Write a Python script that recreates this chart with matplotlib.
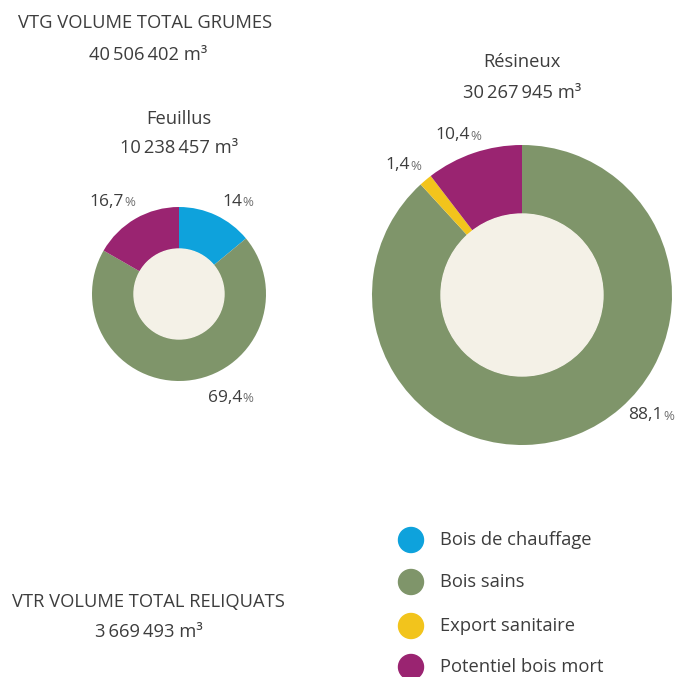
import matplotlib.pyplot as plt
from matplotlib.patches import Circle

plt.rcParams["font.family"] = ["Open Sans", "DejaVu Sans"]

# Data
categories = ["Bois de chauffage", "Bois sains", "Export sanitaire", "Potentiel bois mort"]
colors = ["#0ea2dc", "#7f956a", "#f2c41c", "#9a2471"]

groups = ["Feuillus", "Résineux"]
group_volumes = ["10\u2009238\u2009457 m³", "30\u2009267\u2009945 m³"]
feuillus_pct = [14, 69.4, 0, 16.7]
resineux_pct = [0, 88.1, 1.4, 10.4]

vtg_title = "VTG VOLUME TOTAL GRUMES"
vtg_volume = "40\u2009506\u2009402 m³"
vtr_title = "VTR VOLUME TOTAL RELIQUATS"
vtr_volume = "3\u2009669\u2009493 m³"

W, H = 681, 677
text_color = "#3d3d3d"
inner_color = "#f4f1e7"
fs = 13.2


def fy(y):
    # pixel y (from top) to data y
    return H - y


fig = plt.figure(figsize=(W / 100, H / 100), dpi=100)
ax = fig.add_axes([0, 0, 1, 1])

# donut layout: center x, center y, outer radius, inner radius
donuts = [
    (179, 294, 87, 45),
    (522, 295, 150, 81),
]
# label anchor points (junction between number and %) for nonzero slices
label_pos = [
    {0: (242, 202), 1: (242, 398), 3: (124, 202)},
    {1: (663, 415), 2: (410, 165), 3: (470, 135)},
]

for (cx, cy, r_out, r_in), pct, pos in zip(donuts, [feuillus_pct, resineux_pct], label_pos):
    ax.pie(
        pct,
        colors=colors,
        startangle=90,
        counterclock=False,
        center=(cx, fy(cy)),
        radius=r_out,
        wedgeprops=dict(width=r_out - r_in, linewidth=0),
    )
    ax.add_patch(Circle((cx, fy(cy)), r_in, color=inner_color, zorder=3))
    for i, v in enumerate(pct):
        if v == 0:
            continue
        lx, ly = pos[i]
        num = f"{v:g}".replace(".", ",")
        ax.text(lx, fy(ly), num, ha="right", va="center", fontsize=12.5, color=text_color)
        ax.text(lx, fy(ly) - 1, "%", ha="left", va="center", fontsize=9.5, color="#707070")

# headers
ax.text(18, fy(23), vtg_title, ha="left", va="center", fontsize=fs, color=text_color)
ax.text(148, fy(55), vtg_volume, ha="center", va="center", fontsize=fs, color=text_color)

header_pos = [(179, 119, 148), (522, 62, 93)]
for name, vol, (hx, hy1, hy2) in zip(groups, group_volumes, header_pos):
    ax.text(hx, fy(hy1), name, ha="center", va="center", fontsize=fs, color=text_color)
    ax.text(hx, fy(hy2), vol, ha="center", va="center", fontsize=fs, color=text_color)

ax.text(148, fy(602), vtr_title, ha="center", va="center", fontsize=fs, color=text_color)
ax.text(149, fy(632), vtr_volume, ha="center", va="center", fontsize=fs, color=text_color)

# legend
legend_y = [540, 582, 626, 667]
for cat, col, ly in zip(categories, colors, legend_y):
    ax.add_patch(Circle((411, fy(ly)), 12.5, color=col))
    ax.text(440, fy(ly), cat, ha="left", va="center", fontsize=fs, color=text_color)

ax.set_xlim(0, W)
ax.set_ylim(0, H)
ax.set_aspect("equal")
ax.axis("off")

fig.savefig("out.png", dpi=100)
